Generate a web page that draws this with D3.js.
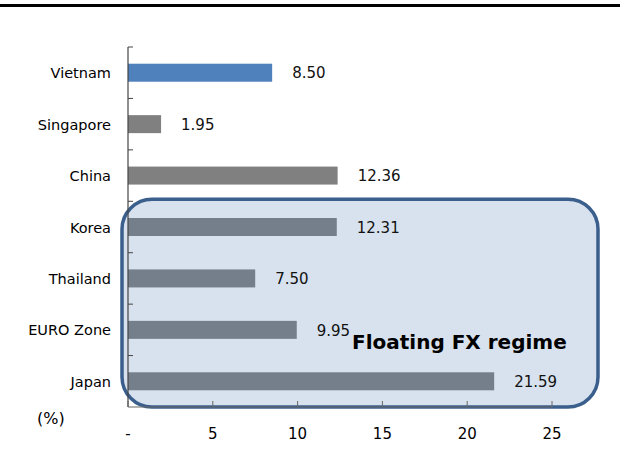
<!DOCTYPE html>
<html>
<head>
<meta charset="utf-8">
<script src="https://cdn.jsdelivr.net/npm/d3@7"></script>
<style>
  html, body { margin: 0; padding: 0; background: #fff; }
  svg { display: block; font-family: "DejaVu Sans", Verdana, sans-serif; }
</style>
</head>
<body>
<svg id="chart" width="620" height="450"></svg>
<script>
// Countries and their values (%)
const countries = ["Vietnam", "Singapore", "China", "Korea", "Thailand", "EURO Zone", "Japan"];
const values = [8.50, 1.95, 12.36, 12.31, 7.50, 9.95, 21.59];
const floating = ["Korea", "Thailand", "EURO Zone", "Japan"];
const xTicks = [0, 5, 10, 15, 20, 25];
const xTickLabels = ["-", "5", "10", "15", "20", "25"];

const svg = d3.select("#chart");
const W = 620, H = 450;
const plotLeft = 128, plotRight = 552, plotTop = 47, plotBottom = 407;

const x = d3.scaleLinear().domain([0, 25]).range([plotLeft, plotRight]);
const y = d3.scaleBand().domain(countries).range([plotTop, plotBottom]).paddingInner(0.65).paddingOuter(0.325);
const band = d3.scaleBand().domain(countries).range([plotTop, plotBottom]);

// heavy rule across the top
svg.append("rect").attr("x", 0).attr("y", 4).attr("width", W).attr("height", 3).attr("fill", "#000");

// rounded box marking the floating-rate economies
const fy0 = band(floating[0]) - 2;
svg.append("rect")
  .attr("x", 122).attr("y", fy0)
  .attr("width", 476).attr("height", plotBottom - fy0)
  .attr("rx", 30).attr("ry", 30)
  .attr("fill", "#D7E2EE")
  .attr("stroke", "#3B5F8C")
  .attr("stroke-width", 3.5);

// bars
svg.append("g").selectAll("rect")
  .data(countries)
  .join("rect")
  .attr("x", x(0))
  .attr("y", d => y(d))
  .attr("width", (d, i) => x(values[i]) - x(0))
  .attr("height", y.bandwidth())
  .attr("fill", d => d === "Vietnam" ? "#4F81BD" : (floating.includes(d) ? "#747F8B" : "#808080"));

// value labels
svg.append("g").selectAll("text")
  .data(countries)
  .join("text")
  .attr("x", (d, i) => x(values[i]) + 20)
  .attr("y", d => y(d) + y.bandwidth() / 2)
  .attr("dy", "0.38em")
  .attr("font-size", 15)
  .attr("fill", "#111")
  .text((d, i) => values[i].toFixed(2));

// y axis
const yAxis = svg.append("g").attr("transform", `translate(${plotLeft},0)`);
yAxis.append("line").attr("x1", 0).attr("x2", 0).attr("y1", plotTop).attr("y2", plotBottom).attr("stroke", "#444").attr("stroke-width", 1.2);
yAxis.selectAll("line.tick")
  .data(countries)
  .join("line")
  .attr("class", "tick")
  .attr("x1", 0).attr("x2", 5)
  .attr("y1", d => band(d)).attr("y2", d => band(d))
  .attr("stroke", "#444");
yAxis.selectAll("text")
  .data(countries)
  .join("text")
  .attr("x", -17)
  .attr("y", d => band(d) + band.bandwidth() / 2)
  .attr("dy", "0.38em")
  .attr("text-anchor", "end")
  .attr("font-size", 14.5)
  .attr("fill", "#000")
  .text(d => d);

// x axis
const xAxis = svg.append("g").attr("transform", `translate(0,${plotBottom})`);
xAxis.append("line").attr("x1", plotLeft).attr("x2", plotRight).attr("y1", 0).attr("y2", 0).attr("stroke", "#666").attr("stroke-width", 1.2);
xAxis.selectAll("line.tick")
  .data(xTicks)
  .join("line")
  .attr("class", "tick")
  .attr("x1", d => x(d)).attr("x2", d => x(d))
  .attr("y1", 0).attr("y2", -6)
  .attr("stroke", "#666");
xAxis.selectAll("text")
  .data(xTicks)
  .join("text")
  .attr("x", d => x(d))
  .attr("y", 26)
  .attr("dy", "0.38em")
  .attr("text-anchor", "middle")
  .attr("font-size", 15)
  .attr("fill", "#000")
  .text((d, i) => xTickLabels[i]);

// unit label
svg.append("text").attr("x", 37).attr("y", 418).attr("dy", "0.38em")
  .attr("font-size", 16).attr("fill", "#000").text("(%)");

// box caption
svg.append("text").attr("x", 352).attr("y", 349)
  .attr("font-size", 20).attr("font-weight", "bold").attr("fill", "#000")
  .text("Floating FX regime");
</script>
</body>
</html>
